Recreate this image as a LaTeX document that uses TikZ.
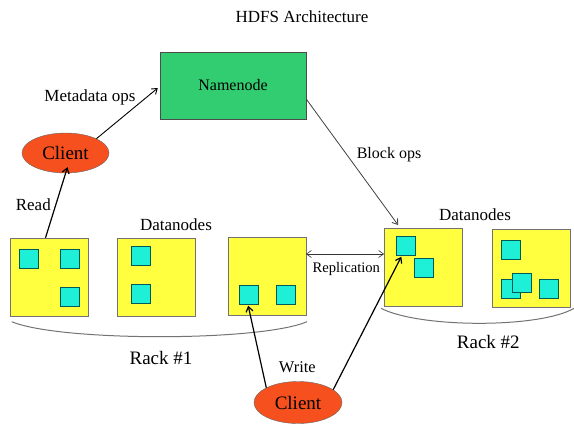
\documentclass[tikz,border=0pt]{standalone}
\usepackage{fontspec}
\setmainfont{Liberation Serif}
\usetikzlibrary{shapes.geometric,arrows.meta}
\definecolor{nngreen}{RGB}{50,205,112}
\definecolor{dnyellow}{RGB}{255,255,64}
\definecolor{blkcyan}{RGB}{30,240,215}
\definecolor{clred}{RGB}{245,80,30}
\begin{document}
\begin{tikzpicture}[x=1pt,y=-1pt,>={Straight Barb[length=5pt,width=7pt]},
    datanode/.style={draw=black!55,fill=dnyellow,minimum width=78pt,minimum height=78pt,inner sep=0pt},
    block/.style={draw=teal!70!black,fill=blkcyan,minimum width=19pt,minimum height=19pt,inner sep=0pt},
    client/.style={ellipse,draw=black!60,fill=clred,inner sep=0pt,font=\fontsize{19}{22}\selectfont},
    lbl/.style={inner sep=0pt,font=\fontsize{17}{20}\selectfont},
    link/.style={->,line width=1.2pt}]
                \useasboundingbox (0,0) rectangle (574,432);
                \node [lbl] (title) at (302,17) {HDFS Architecture};
                \node [draw=black!70,fill=nngreen,minimum width=146pt,minimum height=67pt,font=\fontsize{16}{19}\selectfont] (namenode) at (233,85.5) {Namenode};
                \node [client,minimum width=87pt,minimum height=40pt] (client1) at (65.5,153) {Client};
                \node [client,minimum width=88pt,minimum height=42pt] (client2) at (298,402.5) {Client};
                % rack 1
                \node [datanode] (dnA) at (49.5,277) {};
                \node [datanode] (dnB) at (156.3,277) {};
                \node [datanode] (dnC) at (266.7,276.3) {};
                \node [block] (blkA1) at (28.5,258.7) {};
                \node [block] (blkA2) at (69.2,258.3) {};
                \node [block] (blkA3) at (69.2,296.5) {};
                \node [block] (blkB1) at (140.8,255.7) {};
                \node [block] (blkB2) at (140.8,294) {};
                \node [block] (blkC1) at (248.2,295) {};
                \node [block] (blkC2) at (286,295) {};
                % rack 2
                \node [datanode] (dnD) at (423.3,267.2) {};
                \node [datanode] (dnE) at (531.5,268.2) {};
                \node [block] (blkD1) at (405.5,246) {};
                \node [block] (blkD2) at (424,267.5) {};
                \node [block] (blkE1) at (511,250) {};
                \node [block] (blkE2) at (511,288.2) {};
                \node [block] (blkE3) at (521.2,282.2) {};
                \node [block] (blkE4) at (548.8,289) {};
                % labels
                \node [lbl] (lblMeta) at (90,97) {Metadata ops};
                \node [lbl,font=\fontsize{16}{19}\selectfont] (lblBlock) at (389,155) {Block ops};
                \node [lbl] (lblRead) at (33.3,205) {Read};
                \node [lbl,font=\fontsize{16.4}{19}\selectfont] (lblWrite) at (297.3,367.3) {Write};
                \node [lbl,font=\fontsize{14.6}{17}\selectfont] (lblRepl) at (346.3,269) {Replication};
                \node [lbl] (lblDn1) at (176,225) {Datanodes};
                \node [lbl] (lblDn2) at (475,215) {Datanodes};
                \node [lbl,font=\fontsize{19}{22}\selectfont] (lblRack1) at (161,358) {Rack \#1};
                \node [lbl,font=\fontsize{19}{22}\selectfont] (lblRack2) at (488.3,341.7) {Rack \#2};
                % racks
                \draw [black!55,line width=1pt] (11.7,321.7) .. controls (60,341.7) and (260,341.7) .. (307,321.7);
                \draw [black!55,line width=1pt] (381,308.3) .. controls (420,328.3) and (540,328.3) .. (574,308.3);
                % connectors
                \draw [->,line width=0.9pt] (client1.north east) -- ([xshift=-2pt,yshift=-2.5pt]namenode.west);
                \draw [->,black!75,line width=0.8pt] ([yshift=-13.5pt]namenode.east) -- ([xshift=14pt,yshift=3pt]dnD.north west);
                \draw [link] ([xshift=-4pt]dnA.north) -- ([xshift=2pt,yshift=6pt]client1.south);
                \draw [link] (client2.155) -- ([yshift=-1pt]blkC1.south);
                \draw [link] (client2.20) -- ([xshift=5.5pt,yshift=-1pt]blkD1.south west);
                \draw [<->,black!80,line width=0.6pt] ([yshift=22.3pt]dnC.east) -- ([yshift=22.3pt]dnC.east -| dnD.west);
            \end{tikzpicture}
\end{document}
